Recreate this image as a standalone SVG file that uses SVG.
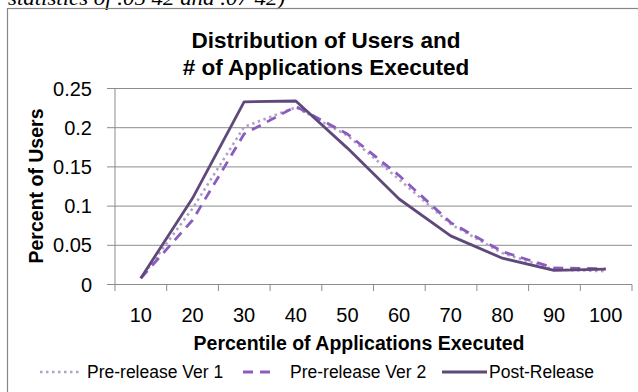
<svg xmlns="http://www.w3.org/2000/svg" width="638" height="392" viewBox="0 0 638 392">
<style>
.t{font-family:"Liberation Sans",Arial,sans-serif;fill:#000}
.b{font-weight:bold}
.grid{stroke:#8c8c8c;stroke-width:1;fill:none}
.axis{stroke:#8c8c8c;stroke-width:1;fill:none}
.s1{stroke:#b3a2c7;stroke-width:2.6;fill:none;stroke-dasharray:2.5 3.5;stroke-linejoin:round}
.s2{stroke:#8b5cbf;stroke-width:2.8;fill:none;stroke-dasharray:10 7;stroke-linejoin:round}
.s3{stroke:#5f497a;stroke-width:2.8;fill:none;stroke-linejoin:round}
</style>
<rect width="638" height="392" fill="#fff"/>
<text x="8" y="4.5" font-family="Liberation Serif,Times New Roman,serif" font-style="italic" font-size="20" textLength="277" lengthAdjust="spacingAndGlyphs">statistics of .05 42 and .07 42)</text>
<rect id="frame" x="7.5" y="8.5" width="660" height="420" fill="none" stroke="#868686" stroke-width="1.2"/>
<g id="title">
<text class="t b" x="326" y="48" font-size="22.5" text-anchor="middle">Distribution of Users and</text>
<text class="t b" x="326" y="75" font-size="22.5" text-anchor="middle"># of Applications Executed</text>
</g>
<g id="grid">
<path class="grid" d="M107 88.5H632M107 127.7H632M107 166.9H632M107 206.1H632M107 245.3H632"/>
<path class="axis" d="M115 88.5V284.5M107 284.5H632M115 284.5V291M166.7 284.5V291M218.4 284.5V291M270.1 284.5V291M321.8 284.5V291M373.5 284.5V291M425.2 284.5V291M476.9 284.5V291M528.6 284.5V291M580.3 284.5V291M632 284.5V291"/>
</g>
<g id="yaxis" class="t" font-size="20" text-anchor="end">
<text x="92" y="95.5">0.25</text>
<text x="92" y="134.7">0.2</text>
<text x="92" y="173.9">0.15</text>
<text x="92" y="213.1">0.1</text>
<text x="92" y="252.3">0.05</text>
<text x="92" y="291.5">0</text>
</g>
<text class="t b" font-size="19.5" text-anchor="middle" transform="translate(43,186) rotate(-90)">Percent of Users</text>
<g id="xaxis" class="t" font-size="20" text-anchor="middle">
<text x="140.8" y="322">10</text>
<text x="192.5" y="322">20</text>
<text x="244.1" y="322">30</text>
<text x="295.8" y="322">40</text>
<text x="347.4" y="322">50</text>
<text x="399.1" y="322">60</text>
<text x="450.7" y="322">70</text>
<text x="502.4" y="322">80</text>
<text x="554" y="322">90</text>
<text x="605.7" y="322">100</text>
</g>
<text class="t b" x="359" y="350" font-size="19.5" text-anchor="middle">Percentile of Applications Executed</text>
<g id="connectors">
<polyline id="pre1" class="s1" points="140.8,278.2 192.5,208.5 244.1,126.9 295.8,107.3 347.4,135.5 399.1,179.4 450.7,224.1 502.4,253.1 554,269.6 605.7,271.2"/>
<polyline id="pre2" class="s2" points="140.8,278.2 192.5,220.2 244.1,134 295.8,106.5 347.4,134 399.1,175.5 450.7,222.6 502.4,251.6 554,268 605.7,268.8"/>
<polyline id="post" class="s3" points="140.8,278.2 192.5,198.3 244.1,101.8 295.8,101 347.4,148.1 399.1,199 450.7,235.9 502.4,258.2 554,270.4 605.7,269.2"/>
</g>
<g id="legend">
<line class="s1" x1="40" y1="372" x2="80" y2="372"/>
<text class="t" x="87" y="378" font-size="17.5">Pre-release Ver 1</text>
<line class="s2" x1="243" y1="372" x2="274" y2="372"/>
<text class="t" x="290" y="378" font-size="17.5">Pre-release Ver 2</text>
<line class="s3" x1="442" y1="372" x2="487" y2="372"/>
<text class="t" x="489" y="378" font-size="17.5">Post-Release</text>
</g>
</svg>
